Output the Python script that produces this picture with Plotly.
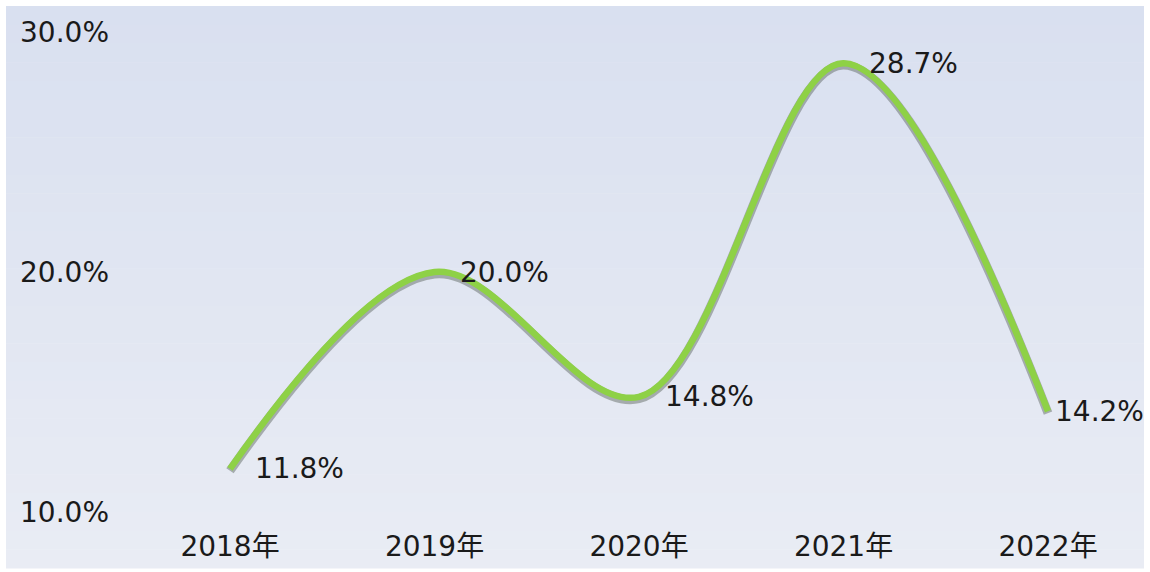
import plotly.graph_objects as go

categories = ["2018年", "2019年", "2020年", "2021年", "2022年"]
values = [11.8, 20.0, 14.8, 28.7, 14.2]
labels = ["11.8%", "20.0%", "14.8%", "28.7%", "14.2%"]
y_ticks = [10, 20, 30]
y_tick_labels = ["10.0%", "20.0%", "30.0%"]
label_xshift = [23, 23, 24, 23, 5]

W, H = 1150, 572
ML, MR, MT, MB = 110, 7, 7, 45
pw, ph = W - ML - MR, H - MT - MB

FONT = "DejaVu Sans, Noto Sans CJK SC, sans-serif"
FS = 28
xs = list(range(len(categories)))

fig = go.Figure()
# soft shadow under the line
fig.add_trace(go.Scatter(
    x=xs, y=[v - 0.08 for v in values], mode="lines",
    line=dict(color="rgba(60,70,60,0.38)", width=9, shape="spline", smoothing=1),
    hoverinfo="skip", showlegend=False))
fig.add_trace(go.Scatter(
    x=xs, y=values, mode="lines",
    line=dict(color="#8ed146", width=6.5, shape="spline", smoothing=1),
    showlegend=False))

for i, (v, t) in enumerate(zip(values, labels)):
    fig.add_annotation(x=i, y=v, text=t, showarrow=False, xanchor="left",
                       yanchor="middle", xshift=label_xshift[i],
                       font=dict(family=FONT, size=FS, color="#1a1a1a"))

# gradient panel background
shapes = []
px0, px1, py0, py1 = 6, 1144, 6, 568
n = 30
top = (217, 224, 240)
bot = (233, 236, 244)
for k in range(n):
    f = k / (n - 1)
    c = tuple(round(top[j] + (bot[j] - top[j]) * f) for j in range(3))
    ya = py0 + (py1 - py0) * k / n
    yb = py0 + (py1 - py0) * (k + 1) / n + 0.5
    shapes.append(dict(type="rect", xref="paper", yref="paper", layer="below",
                       x0=(px0 - ML) / pw, x1=(px1 - ML) / pw,
                       y0=(H - MB - yb) / ph, y1=(H - MB - ya) / ph,
                       line=dict(width=0), fillcolor="rgb(%d,%d,%d)" % c))

x0 = (ML - 230) / 204.5
x1 = (W - MR - 230) / 204.5
y_top = 10 + (512 - MT) / 24
y_bot = 10 - (H - MB - 512) / 24

fig.update_layout(
    width=W, height=H,
    margin=dict(l=ML, r=MR, t=MT, b=MB),
    paper_bgcolor="white", plot_bgcolor="rgba(0,0,0,0)",
    shapes=shapes,
    font=dict(family=FONT, size=FS, color="#1a1a1a"),
    xaxis=dict(range=[x0, x1], tickmode="array", tickvals=xs, ticktext=categories,
               showgrid=False, zeroline=False, showline=False, ticks="",
               tickfont=dict(size=FS, color="#1a1a1a"), fixedrange=True),
    yaxis=dict(range=[y_bot, y_top], tickmode="array", tickvals=y_ticks,
               ticktext=y_tick_labels, showgrid=False, zeroline=False,
               showline=False, ticks="", tickfont=dict(size=FS, color="#1a1a1a"),
               fixedrange=True),
)
fig.write_html("out.html", config={"displayModeBar": False},
               post_script="document.body.style.margin='0';")
